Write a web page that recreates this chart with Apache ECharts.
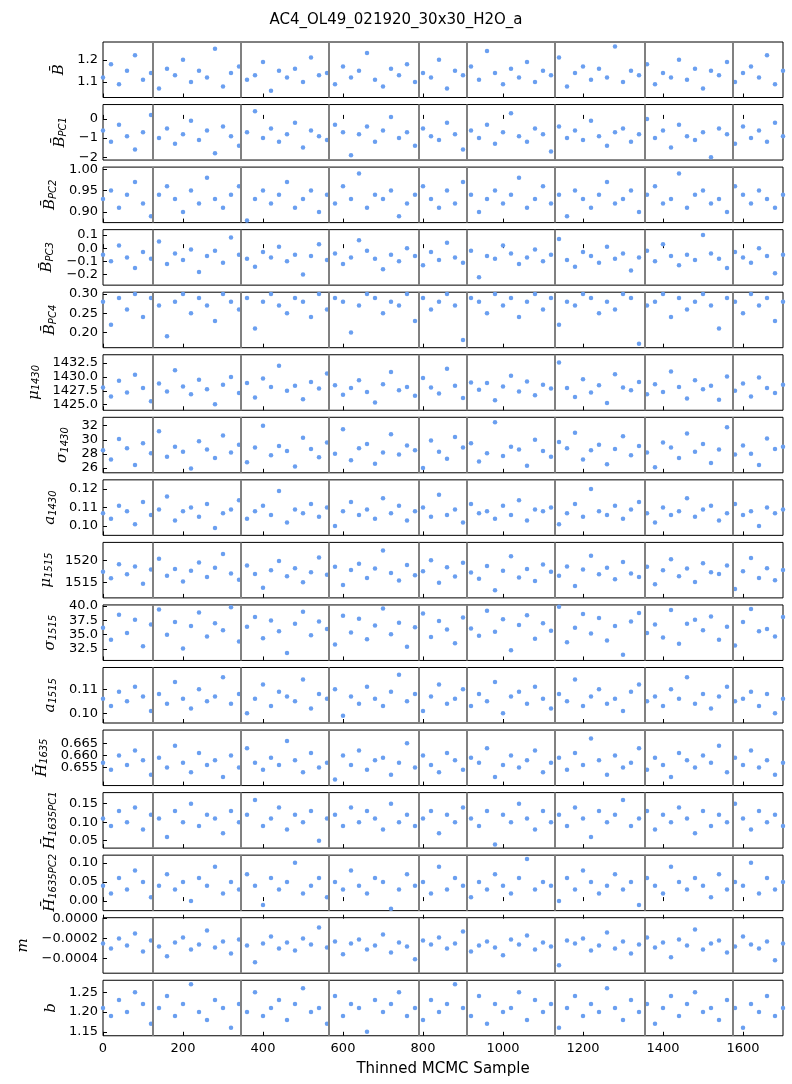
<!DOCTYPE html>
<html>
<head>
<meta charset="utf-8">
<script src="https://cdn.jsdelivr.net/npm/echarts@6/dist/echarts.min.js"></script>
<style>
  html, body { margin: 0; padding: 0; background: #fff; }
  #chart { width: 792px; height: 1084px; }
</style>
</head>
<body>
<div id="chart"></div>
<script>
// chain boundaries (grey vertical lines)
var chainEdges = [125, 345, 565, 790, 910, 1130, 1355, 1575];
var xTicks = [0, 200, 400, 600, 800, 1000, 1200, 1400, 1600];

// thinned trace values, one array per parameter (sparser than the original)
var bMean = [1.12,1.18,1.09,1.15,1.22,1.11,1.14,1.07,1.16,1.13,1.20,1.10,1.15,1.12,1.25,1.08,1.14,1.17,1.11,1.13,1.19,1.06,1.15,1.12,1.16,1.10,1.21,1.13,1.14,1.09,1.17,1.12,1.15,1.23,1.11,1.08,1.16,1.13,1.18,1.10,1.14,1.12,1.20,1.07,1.15,1.13,1.17,1.11,1.24,1.14,1.09,1.16,1.12,1.19,1.10,1.15,1.13,1.21,1.08,1.14,1.17,1.11,1.16,1.12,1.26,1.10,1.15,1.13,1.18,1.09,1.14,1.12,1.20,1.11,1.16,1.07,1.15,1.13,1.19,1.10,1.14,1.17,1.12,1.22,1.09,1.15];
var bPC1 = [-0.6,-1.2,-0.3,-0.9,-1.6,-0.7,0.2,-1.0,-0.5,-1.3,-0.8,-0.1,-1.1,-0.6,-1.8,-0.4,-0.9,-1.4,-0.7,0.4,-1.0,-0.5,-1.2,-0.8,-0.2,-1.5,-0.6,-0.9,-1.1,-0.3,-0.7,-1.9,-0.8,-0.4,-1.2,-0.6,0.1,-1.0,-0.7,-1.4,-0.5,-0.9,-1.1,-0.2,-0.8,-1.6,-0.6,-1.0,-0.3,-1.3,-0.7,0.3,-0.9,-1.2,-0.5,-0.8,-1.7,-0.4,-1.0,-0.6,-1.1,-0.1,-0.9,-1.4,-0.7,-0.5,-1.2,-0.8,0.0,-1.0,-0.6,-1.5,-0.3,-0.9,-1.1,-0.7,-2.0,-0.5,-0.8,-1.3,-0.4,-1.0,-0.6,-1.2,-0.2,-0.9];
var bPC2 = [0.93,0.95,0.91,0.94,0.97,0.92,0.89,0.94,0.96,0.93,0.90,0.95,0.92,0.98,0.93,0.91,0.94,0.96,0.88,0.93,0.95,0.92,0.94,0.97,0.91,0.93,0.95,0.90,0.94,0.92,0.96,0.93,0.99,0.91,0.94,0.93,0.95,0.89,0.92,0.94,0.96,0.93,0.91,0.95,0.92,0.97,0.94,0.90,0.93,0.95,0.92,0.94,0.98,0.91,0.93,0.96,0.92,0.94,0.89,0.95,0.93,0.91,0.94,0.97,0.92,0.93,0.95,0.90,0.94,0.96,0.92,0.93,0.99,0.91,0.94,0.95,0.92,0.93,0.90,0.96,0.94,0.92,0.95,0.93,0.91,0.94];
var bPC3 = [-0.05,-0.10,0.02,-0.07,-0.15,-0.03,-0.08,0.05,-0.12,-0.04,-0.09,-0.01,-0.18,-0.06,-0.02,-0.11,0.08,-0.05,-0.08,-0.14,-0.03,-0.07,0.01,-0.10,-0.05,-0.20,-0.06,0.03,-0.09,-0.04,-0.12,-0.07,0.06,-0.02,-0.08,-0.16,-0.05,-0.10,0.00,-0.06,-0.13,-0.03,-0.09,0.04,-0.07,-0.11,-0.02,-0.22,-0.06,-0.08,0.02,-0.04,-0.12,-0.07,-0.01,-0.10,-0.05,0.07,-0.09,-0.14,-0.03,-0.06,-0.11,0.01,-0.08,-0.04,-0.17,-0.07,-0.02,-0.10,0.03,-0.06,-0.13,-0.05,-0.09,0.10,-0.04,-0.08,-0.15,-0.03,-0.07,-0.11,0.00,-0.06,-0.19,-0.05];
var bPC4 = [0.28,0.22,0.29,0.26,0.30,0.24,0.29,0.27,0.19,0.28,0.30,0.25,0.29,0.27,0.23,0.30,0.28,0.26,0.29,0.21,0.28,0.30,0.27,0.25,0.29,0.28,0.24,0.30,0.26,0.29,0.28,0.20,0.27,0.30,0.29,0.25,0.28,0.27,0.30,0.23,0.29,0.26,0.28,0.30,0.27,0.18,0.29,0.28,0.25,0.30,0.27,0.29,0.24,0.28,0.30,0.26,0.29,0.22,0.28,0.27,0.30,0.29,0.25,0.28,0.26,0.30,0.29,0.17,0.27,0.28,0.30,0.24,0.29,0.26,0.28,0.30,0.27,0.21,0.29,0.28,0.25,0.30,0.27,0.29,0.23,0.28];
var mu1430 = [1428.1,1426.5,1429.3,1427.2,1430.4,1428.0,1425.6,1428.8,1427.4,1431.2,1428.3,1426.9,1429.5,1427.8,1425.1,1428.6,1430.0,1427.1,1428.9,1426.3,1429.7,1428.2,1432.0,1427.5,1428.4,1426.0,1429.1,1427.9,1430.6,1428.5,1426.8,1428.0,1429.4,1427.3,1425.4,1428.7,1430.9,1427.6,1428.2,1426.6,1429.8,1428.1,1427.0,1431.5,1428.4,1426.2,1429.0,1427.7,1428.9,1425.8,1428.3,1430.2,1427.4,1429.2,1426.7,1428.6,1427.9,1432.6,1428.0,1426.4,1429.6,1427.2,1428.5,1425.3,1430.5,1428.1,1427.6,1429.1,1426.9,1428.7,1427.3,1431.0,1428.2,1426.1,1429.4,1427.8,1428.4,1425.9,1430.1,1427.5,1428.8,1426.5,1429.9,1428.0,1427.1,1428.6];
var sig1430 = [28.5,27.2,30.1,28.8,26.4,29.5,28.1,31.2,27.6,29.0,28.3,25.9,29.8,28.6,27.4,30.6,28.2,29.3,26.8,28.9,32.0,27.8,29.1,28.4,26.2,30.3,28.7,27.5,29.6,28.0,31.5,27.1,28.8,29.4,26.6,28.2,30.8,27.9,29.2,28.5,26.0,29.9,28.3,27.3,30.4,28.9,29.5,26.9,28.1,32.5,27.7,29.0,28.6,26.3,30.0,28.4,27.6,29.7,28.8,31.0,27.2,28.5,29.3,26.5,28.7,30.5,27.8,29.1,28.2,26.1,29.6,28.9,27.4,30.9,28.3,29.4,26.7,28.6,31.8,27.9,29.2,28.0,26.4,30.2,28.7,29.0];
var a1430 = [0.107,0.104,0.111,0.108,0.101,0.113,0.106,0.109,0.116,0.103,0.108,0.110,0.105,0.112,0.099,0.107,0.109,0.114,0.104,0.108,0.111,0.106,0.119,0.102,0.109,0.107,0.112,0.105,0.110,0.100,0.108,0.113,0.106,0.109,0.104,0.115,0.107,0.111,0.103,0.108,0.110,0.105,0.117,0.106,0.109,0.102,0.112,0.107,0.108,0.104,0.111,0.106,0.114,0.103,0.109,0.108,0.110,0.101,0.107,0.112,0.105,0.120,0.108,0.106,0.111,0.104,0.109,0.113,0.107,0.102,0.110,0.106,0.108,0.115,0.105,0.109,0.111,0.103,0.107,0.112,0.106,0.108,0.100,0.110,0.107,0.109];
var mu1515 = [1517.4,1515.9,1519.1,1516.8,1518.6,1514.7,1517.9,1520.3,1516.5,1518.0,1515.2,1517.6,1519.5,1516.2,1518.3,1521.4,1517.0,1515.6,1518.8,1516.9,1513.8,1517.7,1519.8,1516.4,1518.2,1515.0,1517.3,1520.6,1516.7,1518.5,1514.4,1517.8,1519.2,1516.0,1518.1,1522.2,1517.1,1515.4,1518.9,1516.6,1517.5,1520.0,1514.9,1518.4,1516.3,1519.4,1517.2,1515.8,1518.7,1513.2,1517.6,1520.9,1516.1,1518.0,1515.3,1519.0,1517.4,1516.5,1518.6,1514.2,1517.9,1521.0,1516.8,1518.3,1515.7,1519.6,1517.0,1516.2,1518.5,1514.6,1517.7,1520.2,1516.4,1518.1,1515.1,1519.3,1517.3,1516.9,1518.8,1513.5,1517.5,1520.5,1516.0,1518.2,1515.5,1517.8];
var sig1515 = [36.2,34.1,38.5,35.3,37.6,33.0,36.8,39.4,35.0,37.2,32.6,36.5,38.9,34.7,37.0,35.8,39.8,33.8,36.4,38.1,34.4,37.5,35.6,31.8,36.9,39.0,34.9,37.3,36.0,33.3,38.3,35.4,37.8,34.2,36.6,39.6,35.1,37.1,32.9,36.3,38.7,34.6,37.4,35.9,33.5,38.0,36.1,34.8,39.2,35.5,37.7,32.3,36.7,38.4,34.3,37.0,35.7,39.9,33.7,36.2,38.6,35.2,37.9,34.0,36.5,31.5,37.3,38.8,35.3,36.8,34.5,39.3,33.4,36.9,37.6,35.8,38.2,34.1,36.4,33.1,37.2,39.5,35.6,36.0,34.7,38.1];
var a1515 = [0.106,0.103,0.109,0.105,0.111,0.107,0.101,0.108,0.104,0.113,0.106,0.102,0.110,0.105,0.107,0.115,0.104,0.108,0.100,0.106,0.112,0.103,0.109,0.107,0.105,0.114,0.102,0.108,0.106,0.110,0.099,0.107,0.104,0.111,0.106,0.103,0.109,0.116,0.105,0.108,0.101,0.107,0.112,0.104,0.106,0.110,0.103,0.108,0.105,0.113,0.100,0.107,0.109,0.104,0.111,0.106,0.102,0.108,0.105,0.114,0.103,0.107,0.110,0.104,0.106,0.101,0.109,0.112,0.105,0.107,0.103,0.110,0.106,0.115,0.104,0.108,0.102,0.107,0.111,0.105,0.106,0.109,0.103,0.108,0.100,0.106];
var h1635 = [0.657,0.654,0.660,0.656,0.662,0.658,0.652,0.659,0.655,0.664,0.657,0.653,0.661,0.656,0.658,0.651,0.660,0.655,0.663,0.657,0.654,0.659,0.656,0.666,0.658,0.653,0.661,0.655,0.657,0.650,0.660,0.656,0.662,0.654,0.658,0.659,0.652,0.657,0.665,0.655,0.660,0.656,0.653,0.661,0.658,0.654,0.659,0.657,0.663,0.651,0.656,0.660,0.655,0.658,0.662,0.653,0.657,0.659,0.654,0.661,0.656,0.667,0.658,0.652,0.660,0.655,0.657,0.663,0.654,0.659,0.656,0.651,0.661,0.658,0.655,0.660,0.657,0.664,0.653,0.659,0.656,0.662,0.655,0.658,0.652,0.657];
var hPC1 = [0.11,0.09,0.13,0.10,0.14,0.08,0.12,0.11,0.06,0.13,0.10,0.15,0.09,0.12,0.11,0.07,0.13,0.10,0.12,0.16,0.09,0.11,0.14,0.08,0.12,0.10,0.13,0.05,0.11,0.12,0.09,0.14,0.10,0.13,0.11,0.08,0.15,0.10,0.12,0.09,0.11,0.13,0.07,0.12,0.10,0.14,0.11,0.09,0.13,0.04,0.12,0.10,0.15,0.11,0.08,0.13,0.10,0.12,0.09,0.14,0.11,0.06,0.13,0.10,0.12,0.16,0.09,0.11,0.13,0.08,0.12,0.10,0.14,0.11,0.07,0.13,0.09,0.12,0.10,0.15,0.11,0.08,0.13,0.10,0.12,0.09];
var hPC2 = [0.04,0.02,0.06,0.03,0.08,0.05,0.01,0.04,0.07,0.03,0.05,0.00,0.06,0.04,0.09,0.02,0.05,0.03,0.07,0.04,-0.01,0.06,0.03,0.05,0.10,0.02,0.04,0.06,0.01,0.05,0.03,0.08,0.04,0.02,0.06,0.05,-0.02,0.03,0.07,0.04,0.05,0.02,0.09,0.03,0.06,0.04,0.01,0.05,0.03,0.07,0.04,0.02,0.06,0.11,0.03,0.05,0.04,0.00,0.06,0.03,0.08,0.05,0.02,0.04,0.07,0.03,0.05,-0.01,0.06,0.04,0.02,0.09,0.05,0.03,0.06,0.04,0.01,0.07,0.03,0.05,0.04,0.10,0.02,0.06,0.03,0.05];
var mSlope = [-0.00025,-0.00030,-0.00020,-0.00027,-0.00015,-0.00033,-0.00022,-0.00028,-0.00038,-0.00024,-0.00019,-0.00031,-0.00026,-0.00012,-0.00029,-0.00023,-0.00035,-0.00021,-0.00027,-0.00044,-0.00025,-0.00018,-0.00030,-0.00024,-0.00032,-0.00020,-0.00026,-0.00009,-0.00029,-0.00023,-0.00036,-0.00025,-0.00021,-0.00031,-0.00027,-0.00016,-0.00034,-0.00024,-0.00028,-0.00041,-0.00022,-0.00026,-0.00019,-0.00030,-0.00025,-0.00013,-0.00033,-0.00027,-0.00023,-0.00029,-0.00037,-0.00021,-0.00026,-0.00017,-0.00031,-0.00024,-0.00028,-0.00047,-0.00022,-0.00025,-0.00020,-0.00032,-0.00027,-0.00014,-0.00030,-0.00023,-0.00035,-0.00026,-0.00019,-0.00029,-0.00024,-0.00039,-0.00021,-0.00027,-0.00011,-0.00031,-0.00025,-0.00022,-0.00034,-0.00028,-0.00018,-0.00026,-0.00030,-0.00023,-0.00042,-0.00025];
var bIntercept = [1.21,1.19,1.23,1.20,1.25,1.22,1.17,1.21,1.24,1.19,1.22,1.27,1.20,1.18,1.23,1.21,1.16,1.22,1.20,1.25,1.19,1.21,1.23,1.18,1.22,1.26,1.20,1.21,1.17,1.24,1.19,1.22,1.21,1.15,1.23,1.20,1.22,1.25,1.19,1.21,1.18,1.23,1.20,1.22,1.27,1.21,1.19,1.24,1.17,1.22,1.20,1.21,1.25,1.18,1.23,1.20,1.22,1.16,1.21,1.24,1.19,1.22,1.20,1.26,1.21,1.18,1.23,1.20,1.22,1.17,1.21,1.24,1.19,1.22,1.25,1.20,1.21,1.18,1.23,1.21,1.16,1.22,1.20,1.24,1.19,1.21];

// panel settings: data, y ticks, y range, decimals, label, label gap
var panels = [
    {d: bMean, t: [1.1, 1.2], r: [1.03, 1.28], p: 1, n: '{i|B\u0304}', g: 36},
    {d: bPC1, t: [-2, -1, 0], r: [-2.15, 0.75], p: 0, n: '{i|B\u0304}{s|PC1}', g: 30},
    {d: bPC2, t: [0.90, 0.95, 1.00], r: [0.875, 1.005], p: 2, n: '{i|B\u0304}{s|PC2}', g: 42},
    {d: bPC3, t: [-0.2, -0.1, 0.0, 0.1], r: [-0.28, 0.14], p: 1, n: '{i|B\u0304}{s|PC3}', g: 42},
    {d: bPC4, t: [0.20, 0.25, 0.30], r: [0.16, 0.305], p: 2, n: '{i|B\u0304}{s|PC4}', g: 42},
    {d: mu1430, t: [1425, 1427.5, 1430, 1432.5], r: [1424, 1434], p: 1, n: '{i|μ}{s|1430}', g: 56},
    {d: sig1430, t: [26, 28, 30, 32], r: [25.3, 33.2], p: 0, n: '{i|σ}{s|1430}', g: 30},
    {d: a1430, t: [0.10, 0.11, 0.12], r: [0.095, 0.125], p: 2, n: '{i|a}{s|1430}', g: 42},
    {d: mu1515, t: [1515, 1520], r: [1511.5, 1524], p: 0, n: '{i|μ}{s|1515}', g: 42},
    {d: sig1515, t: [32.5, 35, 37.5, 40], r: [30.5, 40.2], p: 1, n: '{i|σ}{s|1515}', g: 42},
    {d: a1515, t: [0.10, 0.11], r: [0.096, 0.119], p: 2, n: '{i|a}{s|1515}', g: 42},
    {d: h1635, t: [0.650, 0.655, 0.660, 0.665, 0.670], r: [0.6475, 0.6705], p: 3, n: '{i|H\u0304}{s|1635}', g: 50},
    {d: hPC1, t: [0.05, 0.10, 0.15], r: [0.03, 0.18], p: 2, n: '{i|H\u0304}{s|1635PC1}', g: 42},
    {d: hPC2, t: [0.00, 0.05, 0.10], r: [-0.025, 0.12], p: 2, n: '{i|H\u0304}{s|1635PC2}', g: 42},
    {d: mSlope, t: [-0.0004, -0.0002, 0.0], r: [-0.00055, 0.00001], p: 4, n: '{i|m}', g: 68},
    {d: bIntercept, t: [1.15, 1.20, 1.25], r: [1.14, 1.28], p: 2, n: '{i|b}', g: 42}
];

var grids = [], xAxes = [], yAxes = [], series = [];
var nameRich = {
    i: {fontSize: 15, fontStyle: 'italic', fontFamily: 'DejaVu Serif', color: '#000'},
    s: {fontSize: 10, fontStyle: 'italic', fontFamily: 'DejaVu Sans', color: '#000', verticalAlign: 'bottom', padding: [6, 0, 0, 0]}
};

panels.forEach(function (pn, k) {
    var last = k === panels.length - 1;
    grids.push({left: 103, right: 9, top: 42 + k * 62.55, height: 55.5,
        containLabel: false, outerBoundsMode: 'none',
        show: true, borderColor: '#000', borderWidth: 1, backgroundColor: '#fff'});
    xAxes.push({
        gridIndex: k, type: 'value', min: 0, max: 1700, interval: 200,
        axisLine: {show: false}, splitLine: {show: false},
        axisTick: {show: true, inside: true, length: 4, customValues: xTicks, lineStyle: {color: '#000'}},
        axisLabel: {show: last, customValues: xTicks, color: '#000', fontSize: 13, fontFamily: 'DejaVu Sans', margin: 6,
            formatter: function (v) { return String(v); }},
        name: last ? 'Thinned MCMC Sample' : '', nameLocation: 'middle', nameGap: 26,
        nameTextStyle: {fontSize: 15, color: '#000', fontFamily: 'DejaVu Sans'}
    });
    yAxes.push({
        gridIndex: k, type: 'value', min: pn.r[0], max: pn.r[1],
        axisLine: {show: false}, splitLine: {show: false},
        axisTick: {show: true, inside: true, length: 4, customValues: pn.t, lineStyle: {color: '#000'}},
        axisLabel: {customValues: pn.t, color: '#000', fontSize: 13, fontFamily: 'DejaVu Sans', margin: 5,
            formatter: function (v) { return v.toFixed(pn.p).replace('-', '\u2212'); }},
        name: pn.n, nameLocation: 'middle', nameGap: pn.g, nameRotate: 90,
        nameTextStyle: {rich: nameRich}
    });
    var pts = pn.d.map(function (v, j) { return [j * 1700 / (pn.d.length - 1), v]; });
    series.push({
        type: 'scatter', xAxisIndex: k, yAxisIndex: k, data: pts,
        symbolSize: 4.5, itemStyle: {color: '#6a9ff0', opacity: 1}, silent: true,
        markLine: {silent: true, symbol: 'none', label: {show: false},
            lineStyle: {color: '#808080', width: 2, type: 'solid'},
            data: chainEdges.map(function (x) { return {xAxis: x}; })}
    });
});

var chart = echarts.init(document.getElementById('chart'));
chart.setOption({
    animation: false,
    title: {text: 'AC4_OL49_021920_30x30_H2O_a', left: 'center', top: 8,
        textStyle: {fontSize: 15, fontWeight: 'normal', color: '#000', fontFamily: 'DejaVu Sans'}},
    grid: grids, xAxis: xAxes, yAxis: yAxes, series: series
});
</script>
</body>
</html>
